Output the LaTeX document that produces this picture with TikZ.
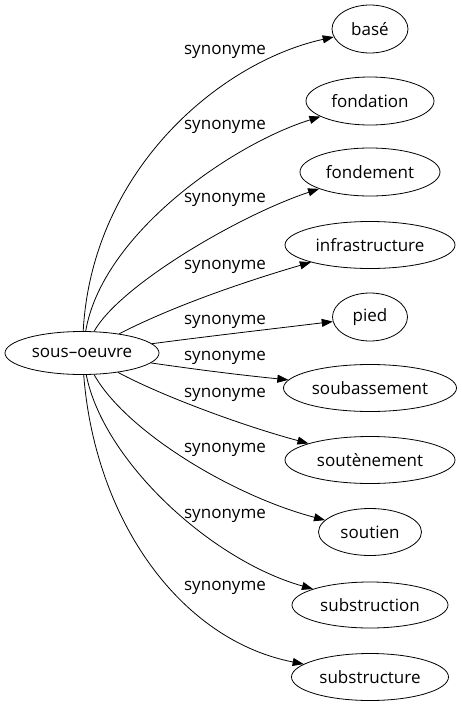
\documentclass[tikz,border=0pt]{standalone}
\usepackage{fontspec}
\setmainfont{Open Sans}
\usetikzlibrary{shapes.geometric,arrows.meta}
\tikzset{
  word/.style={ellipse,draw,line width=0.8pt,inner sep=0pt,font=\fontsize{17}{20}\selectfont},
  lbl/.style={inner sep=0pt,font=\fontsize{17}{20}\selectfont},
  edge/.style={line width=0.8pt,-{Triangle[length=11pt,width=8pt]}}
}
\begin{document}
\begin{tikzpicture}[x=1pt,y=-1pt]
\useasboundingbox (0,0) rectangle (462,707);
\node[word,minimum width=154pt,minimum height=43pt] (src) at (82,353) {sous–oeuvre};
\node[word,minimum width=76pt,minimum height=48pt] (t1) at (370,29) {basé};
\node[word,minimum width=128pt,minimum height=48pt] (t2) at (370,101) {fondation};
\node[word,minimum width=140pt,minimum height=48pt] (t3) at (370,172) {fondement};
\node[word,minimum width=170pt,minimum height=47pt] (t4) at (370,245) {infrastructure};
\node[word,minimum width=75pt,minimum height=48pt] (t5) at (370,317) {pied};
\node[word,minimum width=173pt,minimum height=47pt] (t6) at (370,388) {soubassement};
\node[word,minimum width=170pt,minimum height=47pt] (t7) at (370,460) {soutènement};
\node[word,minimum width=103pt,minimum height=47pt] (t8) at (370,532) {soutien};
\node[word,minimum width=156pt,minimum height=46pt] (t9) at (370,605) {substruction};
\node[word,minimum width=157pt,minimum height=47pt] (t10) at (370,677) {substructure};

\node[lbl] (l1) at (225,52) {synonyme};
\node[lbl] (l2) at (225,127) {synonyme};
\node[lbl] (l3) at (225,200) {synonyme};
\node[lbl] (l4) at (225,267) {synonyme};
\node[lbl] (l5) at (225,322) {synonyme};
\node[lbl] (l6) at (225,358) {synonyme};
\node[lbl] (l7) at (225,395) {synonyme};
\node[lbl] (l8) at (225,450) {synonyme};
\node[lbl] (l9) at (225,516) {synonyme};
\node[lbl] (l10) at (225,588) {synonyme};

\draw[edge] (src) .. controls (92,170) and (220,62) .. (t1);
\draw[edge] (src) .. controls (102,235) and (230,145) .. (t2);
\draw[edge] (src) .. controls (120,285) and (240,215) .. (t3);
\draw[edge] (src) .. controls (175,305) and (250,280) .. (t4);
\draw[edge] (src) .. controls (210,336) and (280,328) .. (t5);
\draw[edge] (src) .. controls (200,370) and (240,375) .. (t6);
\draw[edge] (src) .. controls (160,395) and (240,425) .. (t7);
\draw[edge] (src) .. controls (125,430) and (230,495) .. (t8);
\draw[edge] (src) .. controls (103,460) and (210,560) .. (t9);
\draw[edge] (src) .. controls (95,520) and (180,640) .. (t10);
\end{tikzpicture}
\end{document}
